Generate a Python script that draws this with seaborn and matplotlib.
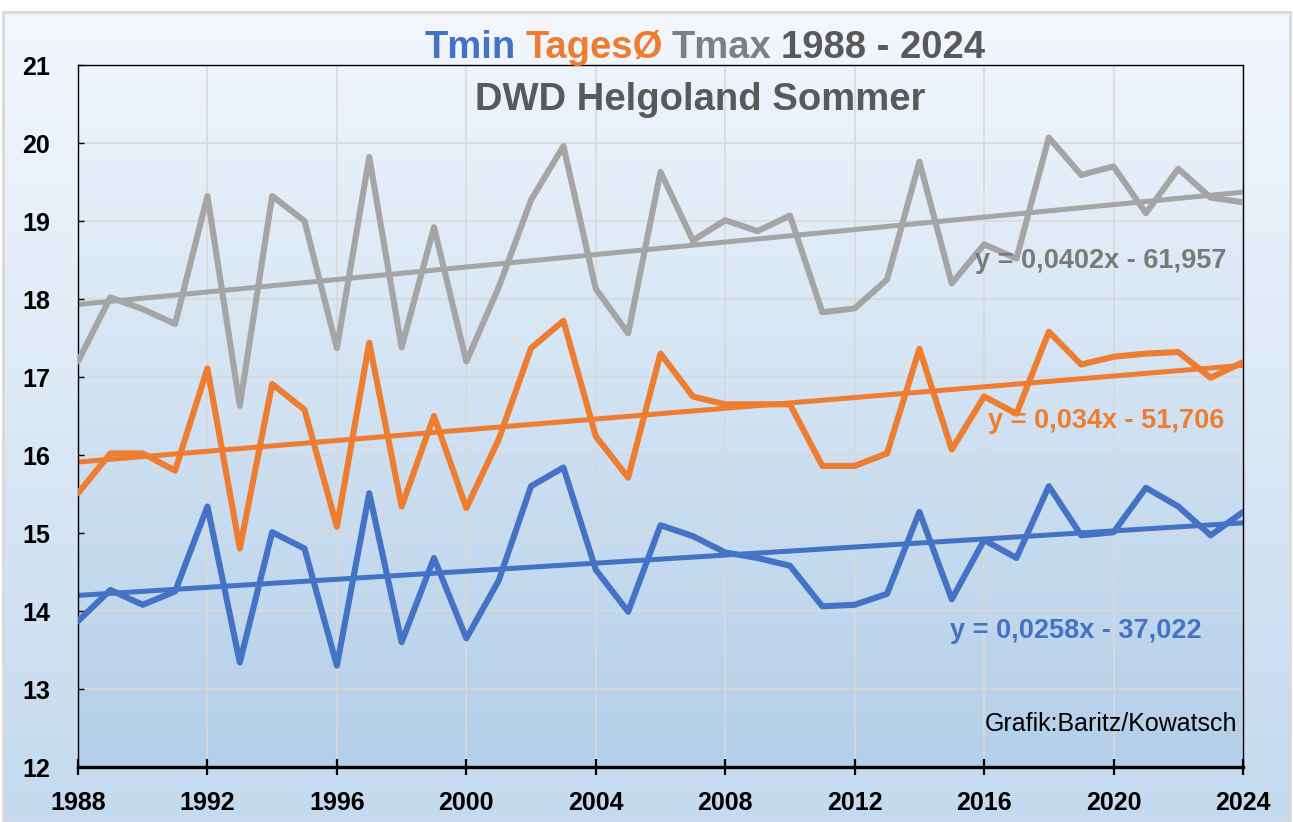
import numpy as np
import pandas as pd
import seaborn as sns
import matplotlib.pyplot as plt
from matplotlib.colors import LinearSegmentedColormap
from matplotlib.patches import Rectangle

# --- data ---
years = list(range(1988, 2025))
tmin = [13.87, 14.27, 14.08, 14.25, 15.34, 13.34, 15.01, 14.80, 13.30, 15.51,
        13.60, 14.68, 13.65, 14.39, 15.60, 15.84, 14.53, 13.99, 15.10, 14.96,
        14.75, 14.68, 14.58, 14.06, 14.08, 14.22, 15.27, 14.15, 14.91, 14.68,
        15.60, 14.97, 15.01, 15.58, 15.34, 14.97, 15.27]
tages = [15.51, 16.02, 16.02, 15.80, 17.11, 14.80, 16.91, 16.58, 15.08, 17.44,
         15.34, 16.50, 15.32, 16.20, 17.37, 17.72, 16.24, 15.71, 17.30, 16.75,
         16.65, 16.65, 16.65, 15.86, 15.86, 16.02, 17.36, 16.07, 16.75, 16.53,
         17.58, 17.16, 17.26, 17.30, 17.32, 16.99, 17.19]
tmax = [17.20, 18.02, 17.87, 17.68, 19.32, 16.63, 19.32, 19.00, 17.37, 19.82,
        17.38, 18.92, 17.20, 18.15, 19.27, 19.96, 18.13, 17.56, 19.63, 18.75,
        19.01, 18.87, 19.07, 17.83, 17.88, 18.25, 19.76, 18.20, 18.70, 18.52,
        20.07, 19.59, 19.70, 19.10, 19.67, 19.30, 19.24]
series_names = ["Tmin", "TagesØ", "Tmax"]
# linear trend lines (values at 1988 and 2024, as drawn)
trend_years = [1988, 2024]
trend_start = [14.20, 15.91, 17.93]
trend_end = [15.13, 17.15, 19.37]
eq_labels = ["y = 0,0258x - 37,022", "y = 0,034x - 51,706", "y = 0,0402x - 61,957"]
x_ticks = list(range(1988, 2025, 4))
y_ticks = list(range(12, 22))

colors = {"Tmin": "#4472c4", "TagesØ": "#ed7d31", "Tmax": "#a5a5a5"}
eq_colors = ["#4472c4", "#ed7d31", "#7a7a7a"]

df = pd.DataFrame({"Jahr": years * 3,
                   "Temp": tmin + tages + tmax,
                   "Reihe": [n for n in series_names for _ in years]})
trend_df = pd.DataFrame({"Jahr": trend_years * 3,
                         "Temp": [v for s, e in zip(trend_start, trend_end) for v in (s, e)],
                         "Reihe": [n for n in series_names for _ in trend_years]})

sns.set_theme(style="white")
plt.rcParams["font.family"] = ["Liberation Sans", "DejaVu Sans"]

W, H = 1293, 822
fig = plt.figure(figsize=(W / 100, H / 100), dpi=100)
fig.patch.set_facecolor("white")

# chart area gradient background with thin grey frame
bg = fig.add_axes([3 / W, 0, 1287 / W, 1 - 12 / H], zorder=-10)
cmap_bg = LinearSegmentedColormap.from_list("bg", ["#c4daef", "#f3f7fc"])
bg.imshow(np.linspace(0, 1, 256).reshape(-1, 1), aspect="auto", cmap=cmap_bg,
          origin="lower", extent=[0, 1, 0, 1])
bg.axis("off")
fig.patches.append(Rectangle((3 / W, 0), 1287 / W, 1 - 12 / H, transform=fig.transFigure,
                             fill=False, edgecolor="#d9d9d9", linewidth=2, zorder=-5))

ax_rect = [78 / W, 1 - 767 / H, 1165 / W, 702 / H]
pbg = fig.add_axes(ax_rect, zorder=-9)
cmap_pa = LinearSegmentedColormap.from_list("pa", ["#b3cfe9", "#eef4fb"])
pbg.imshow(np.linspace(0, 1, 256).reshape(-1, 1), aspect="auto", cmap=cmap_pa,
           origin="lower", extent=[0, 1, 0, 1])
pbg.axis("off")

ax = fig.add_axes(ax_rect)
ax.set_facecolor("none")

sns.lineplot(data=trend_df, x="Jahr", y="Temp", hue="Reihe", palette=colors,
             linewidth=3.6, legend=False, ax=ax, zorder=2)
sns.lineplot(data=df, x="Jahr", y="Temp", hue="Reihe", palette=colors,
             linewidth=4.4, legend=False, ax=ax, zorder=3)

ax.set_xlim(1988, 2024)
ax.set_ylim(12, 21)
ax.set_xticks(x_ticks)
ax.set_yticks(y_ticks)
ax.set_xlabel("")
ax.set_ylabel("")
ax.grid(True, color="#d9d9d9", linewidth=1.2)
ax.set_axisbelow(True)

for side in ["left", "top", "right"]:
    ax.spines[side].set_visible(True)
    ax.spines[side].set_color("black")
    ax.spines[side].set_linewidth(1.0)
ax.spines["bottom"].set_color("black")
ax.spines["bottom"].set_linewidth(2.4)

ax.tick_params(axis="x", direction="inout", length=12, width=1.6, color="black",
               pad=11, labelsize=18, bottom=True)
ax.tick_params(axis="y", direction="in", length=4, width=1, color="black",
               pad=20, labelsize=18, left=True)
plt.setp(ax.get_xticklabels() + ax.get_yticklabels(), fontweight="bold", color="black")

# multi-coloured title line
renderer = fig.canvas.get_renderer()
pieces = [("Tmin", "#4472c4"), ("TagesØ", "#ed7d31"), ("Tmax", "#7f7f7f"),
          ("1988 - 2024", "#595959")]
x = 425 / W
ty = 1 - 58 / H
for txt, col in pieces:
    t = fig.text(x, ty, txt, color=col, fontsize=27.5, fontweight="bold", va="baseline", ha="left")
    x += t.get_window_extent(renderer).width / W + 9 / W

fig.text(700 / W, 1 - 110 / H, "DWD Helgoland Sommer", color="#595959", fontsize=27.5,
         fontweight="bold", ha="center", va="baseline")

eq_pos = [(0.7485, 0.184), (0.781, 0.483), (0.770, 0.711)]
for lab, col, (ex, ey) in zip(eq_labels, eq_colors, eq_pos):
    ax.text(ex, ey, lab, transform=ax.transAxes, color=col, fontsize=19.5,
            fontweight="bold", ha="left", va="baseline", zorder=5)

ax.text(0.995, 0.051, "Grafik:Baritz/Kowatsch", transform=ax.transAxes, color="black",
        fontsize=18, ha="right", va="baseline", zorder=5)

fig.savefig("out.png", dpi=100)
